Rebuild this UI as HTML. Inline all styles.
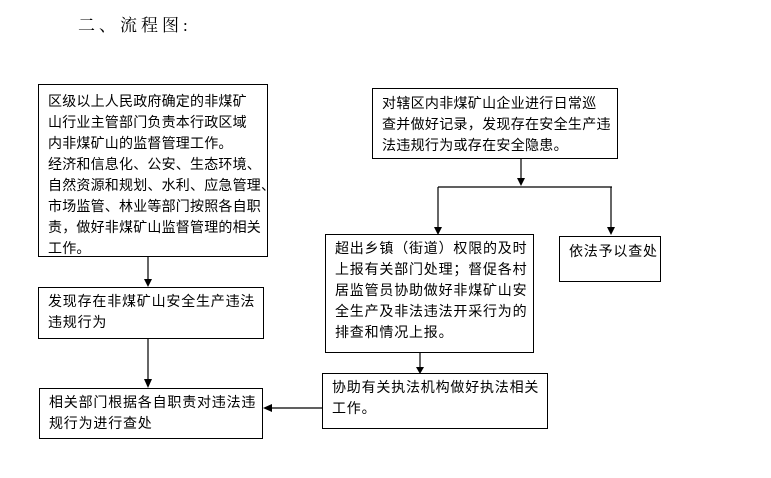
<!DOCTYPE html>
<html><head><meta charset="utf-8"><style>
body{margin:0;width:771px;height:478px;background:#fff;position:relative;overflow:hidden;font-family:"Liberation Sans","Noto Sans CJK SC",sans-serif;color:#000}
.b{position:absolute;border:1px solid #000;box-sizing:border-box;font-size:14px;line-height:21px;padding:4px 0 0 9px;background:#fff;white-space:nowrap;letter-spacing:0.8px;overflow:hidden}
.t{position:absolute;left:78px;top:11px;font-family:"Liberation Serif","Noto Serif CJK SC",serif;font-size:17px;letter-spacing:4px}
svg{position:absolute;left:0;top:0}
</style></head><body>
<div class="t">二、流程图:</div>
<svg width="771" height="478">
<g stroke="#000" stroke-width="1.2" fill="none">
<line x1="148" y1="256" x2="148" y2="280"/>
<line x1="148" y1="338" x2="148" y2="380"/>
<line x1="521" y1="158" x2="521" y2="180"/>
<line x1="438" y1="187" x2="612" y2="187"/>
<line x1="438" y1="187" x2="438" y2="228"/>
<line x1="611" y1="187" x2="611" y2="228"/>
<line x1="420" y1="352" x2="420" y2="369"/>
<line x1="322" y1="408" x2="270" y2="408"/>
</g>
<g fill="#000">
<polygon points="144,279 152,279 148,287"/>
<polygon points="144,379 152,379 148,388"/>
<polygon points="517,178 525,178 521,186"/>
<polygon points="434,227 442,227 438,235"/>
<polygon points="607,227 615,227 611,235"/>
<polygon points="416,367 424,367 420,374"/>
<polygon points="272,404 272,412 263,408"/>
</g>
</svg>
<div class="b" style="left:38px;top:84px;width:230px;height:173px;padding-top:6px;letter-spacing:0.2px">区级以上人民政府确定的非煤矿<br>山行业主管部门负责本行政区域<br>内非煤矿山的监督管理工作。<br>经济和信息化、公安、生态环境、<br>自然资源和规划、水利、应急管理、<br>市场监管、林业等部门按照各自职<br>责，做好非煤矿山监督管理的相关<br>工作。</div>
<div class="b" style="left:38px;top:287px;width:226px;height:52px;padding-top:3px">发现存在非煤矿山安全生产违法<br>违规行为</div>
<div class="b" style="left:39px;top:388px;width:224px;height:51px;padding-top:3px">相关部门根据各自职责对违法违<br>规行为进行查处</div>
<div class="b" style="left:372px;top:88px;width:246px;height:71px;padding-top:4px;letter-spacing:0.3px">对辖区内非煤矿山企业进行日常巡<br>查并做好记录，发现存在安全生产违<br>法违规行为或存在安全隐患。</div>
<div class="b" style="left:325px;top:234px;width:209px;height:119px;padding-top:3px">超出乡镇（街道）权限的及时<br>上报有关部门处理；督促各村<br>居监管员协助做好非煤矿山安<br>全生产及非法违法开采行为的<br>排查和情况上报。</div>
<div class="b" style="left:559px;top:236px;width:102px;height:46px;padding-top:4px">依法予以查处</div>
<div class="b" style="left:322px;top:373px;width:226px;height:56px;padding-top:3px">协助有关执法机构做好执法相关<br>工作。</div>
</body></html>
